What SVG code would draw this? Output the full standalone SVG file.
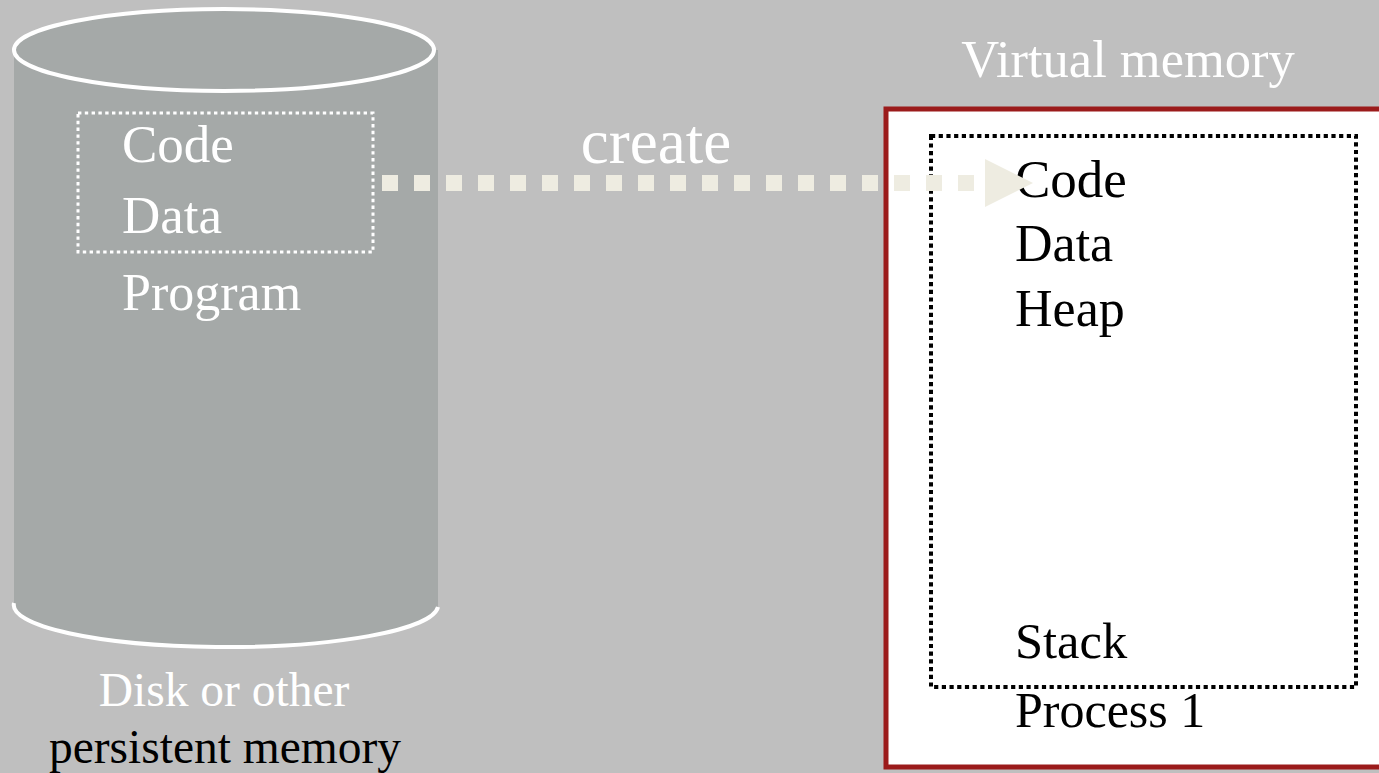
<svg xmlns="http://www.w3.org/2000/svg" width="1379" height="773" viewBox="0 0 1379 773">
  <style>
    .t { font-family: "Liberation Serif", "Times New Roman", serif; }
    .w { fill: #ffffff; }
    .k { fill: #000000; }
  </style>
  <defs>
    <marker id="head" viewBox="0 0 48 48" refX="0" refY="24" markerWidth="48" markerHeight="48" markerUnits="userSpaceOnUse" orient="auto">
      <path d="M0,0 L48,24 L0,48 Z" fill="#eeece1"/>
    </marker>
  </defs>

  <rect x="0" y="0" width="1379" height="773" fill="#bfbfbf"/>

  <!-- Disk cylinder holding the program -->
  <g id="disk">
    <path d="M14,50 L14,605 A212,42 0 0 0 438,605 L438,50 Z" fill="#a5a9a8"/>
    <path d="M14,603 A212,42 0 0 0 438,607" fill="none" stroke="#ffffff" stroke-width="4"/>
    <ellipse cx="224" cy="50" rx="210" ry="41" fill="#a5a9a8" stroke="#ffffff" stroke-width="4"/>
    <rect x="78" y="113" width="295" height="139" fill="none" stroke="#ffffff" stroke-width="3" stroke-dasharray="3.4 3.4"/>
    <text class="t w" x="122" y="162" font-size="53">Code</text>
    <text class="t w" x="122" y="233" font-size="53">Data</text>
    <text class="t w" x="122" y="310" font-size="52">Program</text>
  </g>

  <g id="disk-label">
    <text class="t w" x="224" y="706" text-anchor="middle" font-size="47.5">Disk or other</text>
    <text class="t k" x="225" y="763" text-anchor="middle" font-size="47.5">persistent memory</text>
  </g>

  <!-- Virtual memory of the process -->
  <g id="virtual-memory">
    <text class="t w" x="1128" y="77" text-anchor="middle" font-size="52.5">Virtual memory</text>
    <rect x="886" y="109" width="500" height="658" fill="#ffffff" stroke="#9b1b1b" stroke-width="5"/>
    <rect x="931" y="136" width="425" height="551" fill="none" stroke="#000000" stroke-width="4" stroke-dasharray="4.2 3.5"/>
    <text class="t k" x="1015" y="197" font-size="53">Code</text>
    <text class="t k" x="1015" y="261" font-size="52">Data</text>
    <text class="t k" x="1015" y="326" font-size="52">Heap</text>
    <text class="t k" x="1015" y="658" font-size="50.5">Stack</text>
    <text class="t k" x="1015" y="727" font-size="50">Process 1</text>
  </g>

  <g id="connectors">
    <line x1="382" y1="183" x2="985" y2="183" stroke="#eeece1" stroke-width="16" stroke-dasharray="16 16" marker-end="url(#head)"/>
    <text class="t w" x="656" y="163" text-anchor="middle" font-size="63">create</text>
  </g>
</svg>
